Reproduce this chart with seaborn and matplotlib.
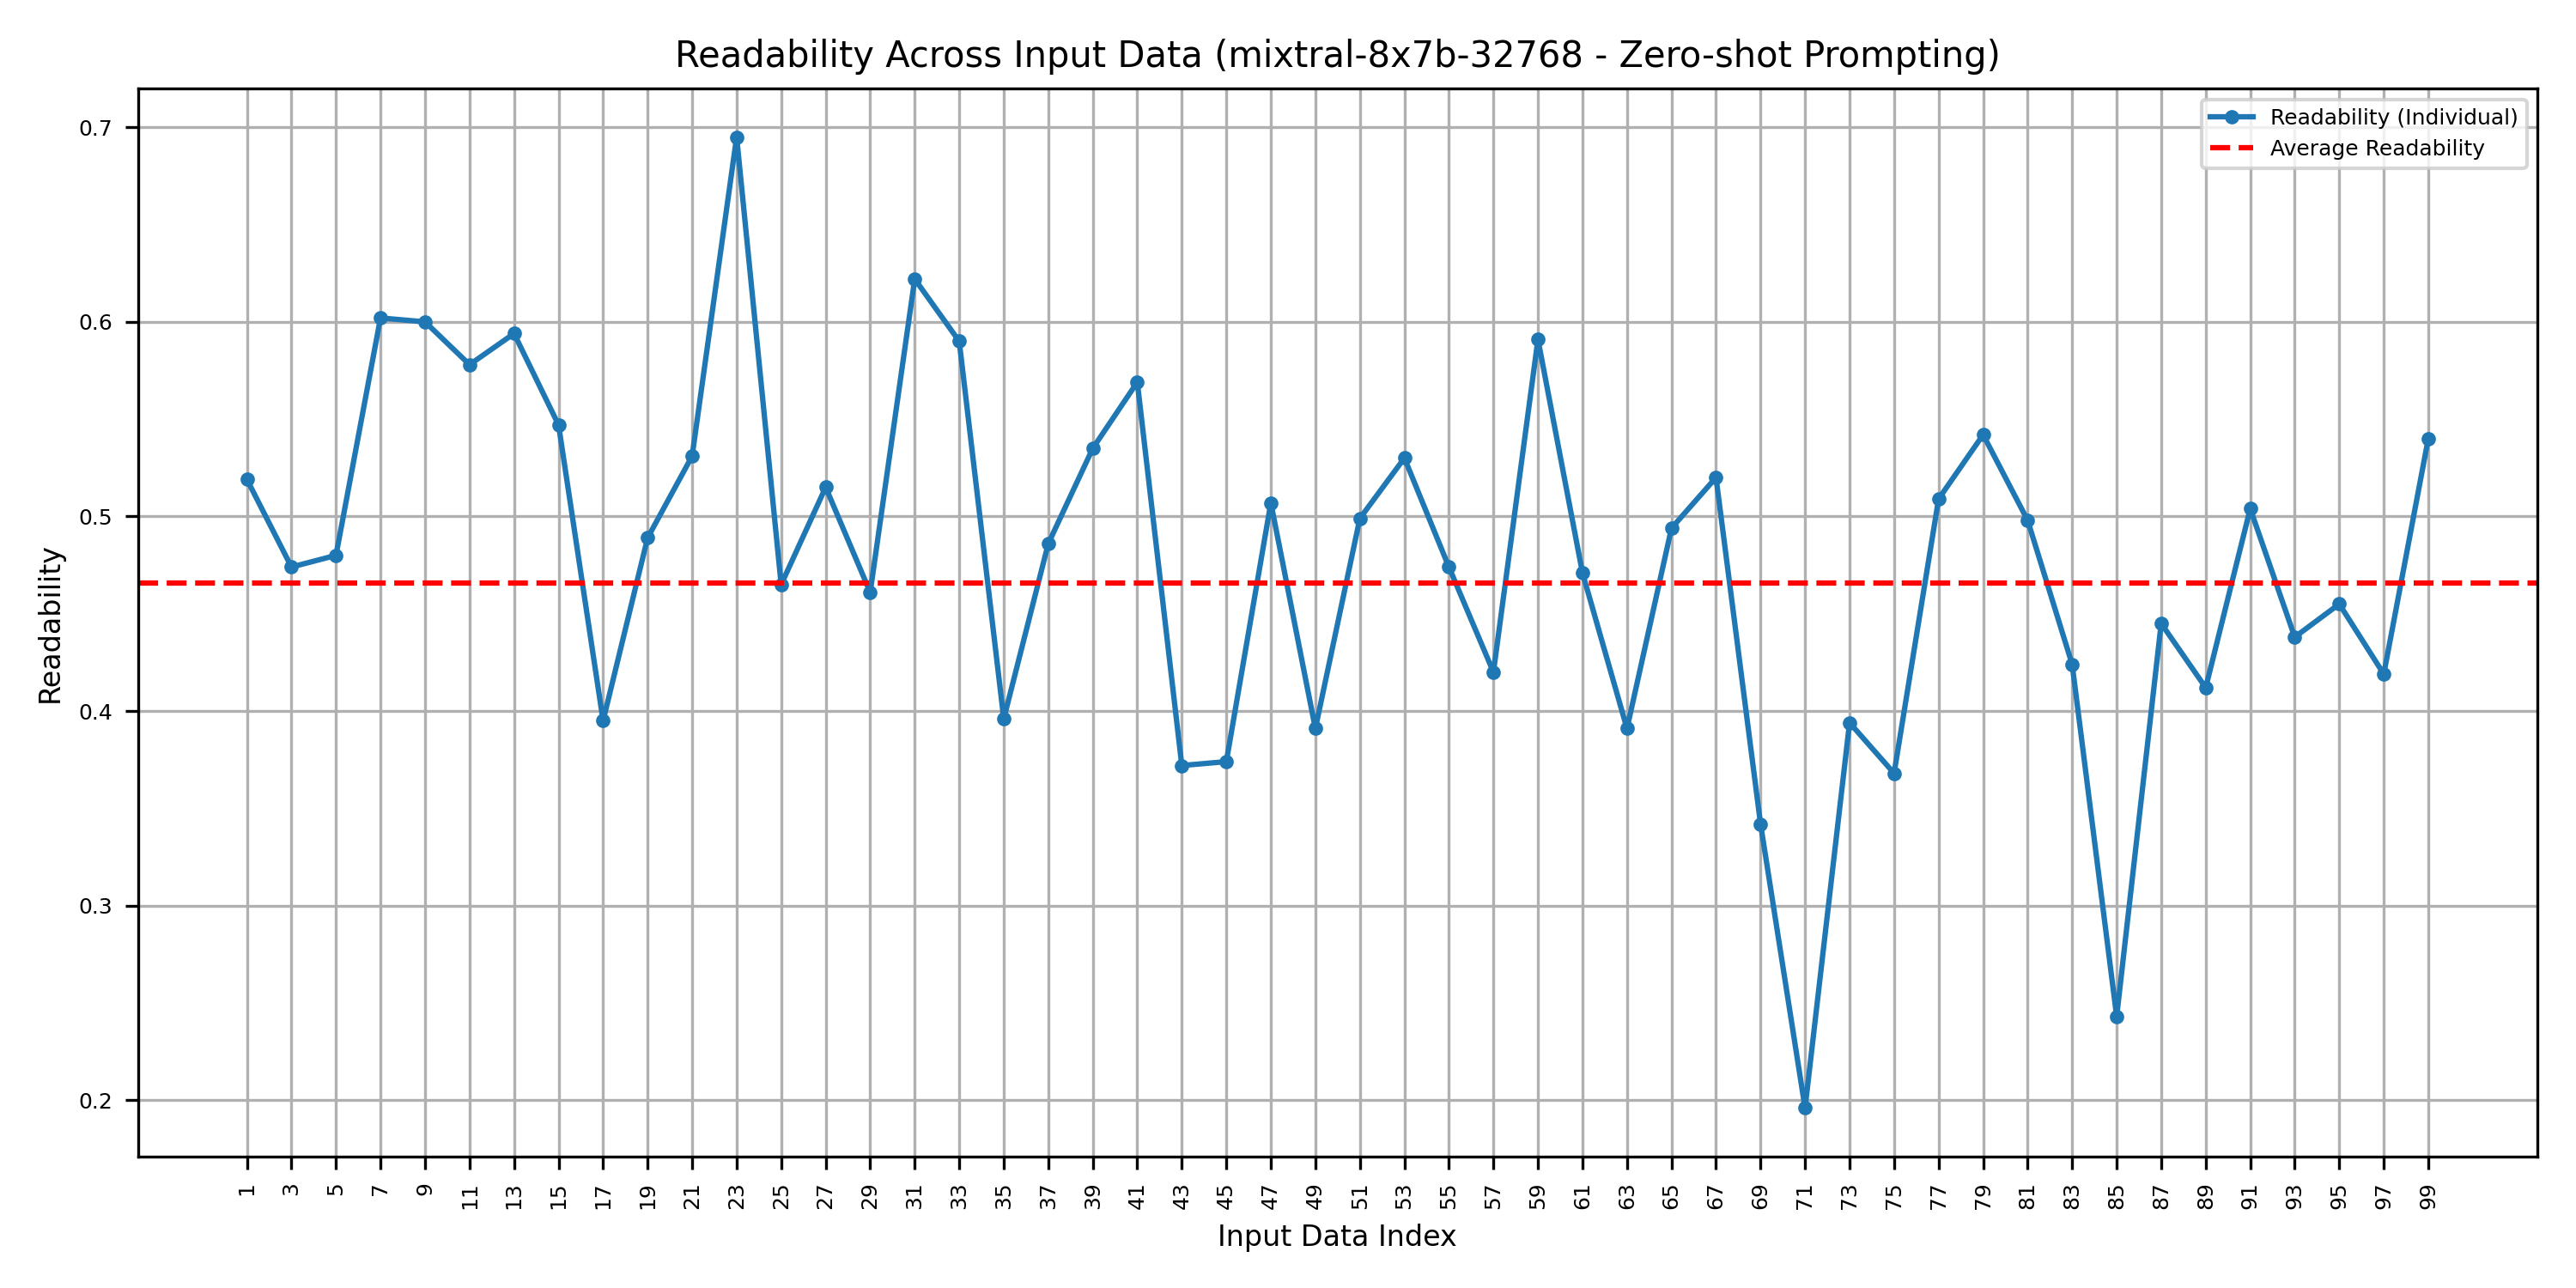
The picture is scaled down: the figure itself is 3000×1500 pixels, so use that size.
import pandas as pd
import matplotlib.pyplot as plt
import seaborn as sns

# Readability scores (odd input indices 1..99)
indices = list(range(1, 100, 2))
readability = [
    0.519, 0.474, 0.480, 0.602, 0.600, 0.578, 0.594, 0.547, 0.395, 0.489,
    0.531, 0.695, 0.465, 0.515, 0.461, 0.622, 0.590, 0.396, 0.486, 0.535,
    0.569, 0.372, 0.374, 0.507, 0.391, 0.499, 0.530, 0.474, 0.420, 0.591,
    0.471, 0.391, 0.494, 0.520, 0.342, 0.196, 0.394, 0.368, 0.509, 0.542,
    0.498, 0.424, 0.243, 0.445, 0.412, 0.504, 0.438, 0.455, 0.419, 0.540,
]
average_readability = 0.466

df = pd.DataFrame({'Input Data Index': indices, 'Readability': readability})

plt.figure(figsize=(10, 5))
ax = sns.lineplot(data=df, x='Input Data Index', y='Readability', marker='o',
                  markersize=3, markeredgewidth=1, markeredgecolor='#1f77b4',
                  linewidth=1.5, color='#1f77b4', label='Readability (Individual)')
plt.axhline(average_readability, color='red', linestyle='--', linewidth=1.5,
            label='Average Readability')

plt.title('Readability Across Input Data (mixtral-8x7b-32768 - Zero-shot Prompting)', fontsize=10)
plt.xlabel('Input Data Index', fontsize=8)
plt.ylabel('Readability', fontsize=8)
plt.xticks(indices, rotation=90, fontsize=6)
plt.yticks(fontsize=6)
plt.grid(True)
plt.legend(fontsize=6, loc='upper right')

plt.tight_layout()
plt.savefig('out.png', dpi=300)
